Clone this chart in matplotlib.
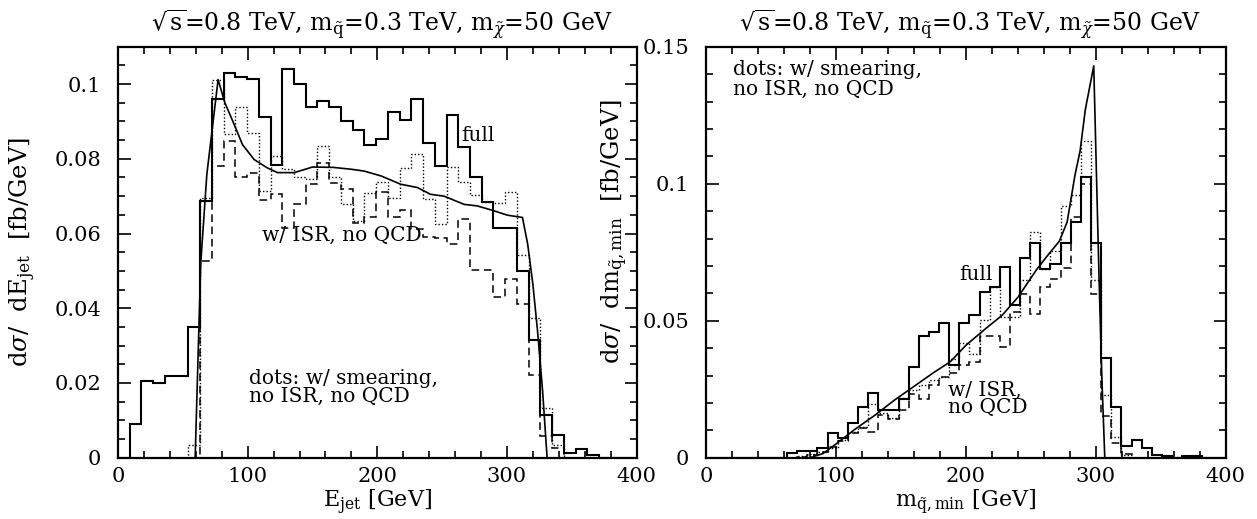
import numpy as np
import matplotlib
matplotlib.use("Agg")
import matplotlib.pyplot as plt
from matplotlib.ticker import MultipleLocator

plt.rcParams['font.family'] = ['DejaVu Serif']
plt.rcParams['mathtext.fontset'] = 'dejavuserif'

# ---- left panel: E_jet, bins of ~9.05 GeV ----
ejet_width = 9.05
ejet_full = [0, 0.009, 0.0205, 0.020, 0.022, 0.022, 0.0351, 0.0687, 0.096, 0.103,
             0.102, 0.1013, 0.0912, 0.0783, 0.104, 0.100, 0.0938, 0.0956, 0.0938, 0.090,
             0.0878, 0.0836, 0.0854, 0.0924, 0.0905, 0.096, 0.0841, 0.0782, 0.0916, 0.0831,
             0.0752, 0.0685, 0.0616, 0.0616, 0.050, 0.0316, 0.0114, 0.0062, 0.0012, 0.0022,
             0.0007, 0, 0, 0]
ejet_dots = [0, 0, 0, 0, 0, 0, 0.0034, 0.0696, 0.101, 0.0867,
             0.0938, 0.087, 0.0714, 0.0807, 0.0773, 0.075, 0.0745, 0.0834, 0.075, 0.0678,
             0.0634, 0.0708, 0.0738, 0.0696, 0.0776, 0.0813, 0.0692, 0.0625, 0.0778, 0.0739,
             0.0702, 0.0685, 0.0683, 0.0712, 0.0543, 0.0374, 0.0133, 0.0034, 0, 0,
             0, 0, 0, 0]
ejet_isr = [0, 0, 0, 0, 0, 0, 0, 0.0527, 0.078, 0.0847,
            0.0752, 0.0763, 0.069, 0.0705, 0.0616, 0.068, 0.0732, 0.079, 0.0736, 0.0718,
            0.0629, 0.0643, 0.0712, 0.0643, 0.0663, 0.0612, 0.0591, 0.0589, 0.0572, 0.064,
            0.0503, 0.0503, 0.0429, 0.0478, 0.0412, 0.0222, 0.0058, 0.0025, 0, 0,
            0, 0, 0, 0]
ejet_curve_x = [59.5, 63.8, 68.5, 77.2, 82.4, 89.6, 96, 105, 115, 123, 136, 150, 166, 180,
                190, 203, 218, 231, 241, 251.5, 267, 277, 288, 300.5, 312, 316, 320, 323.6,
                327.5, 331]
ejet_curve_y = [0, 0.052, 0.0758, 0.1012, 0.095, 0.0892, 0.0838, 0.0798, 0.0776, 0.0763,
                0.0763, 0.0778, 0.0777, 0.0772, 0.0767, 0.0754, 0.0732, 0.0723, 0.0705, 0.070,
                0.0678, 0.0674, 0.0663, 0.0649, 0.0643, 0.0572, 0.0465, 0.034, 0.018, 0]

# ---- right panel: m_sq,min, bins of ~7.8 GeV ----
mmin_width = 7.8
mmin_full = [0, 0, 0, 0, 0, 0, 0, 0, 0.0018, 0.0026,
             0.0026, 0.0034, 0.0089, 0.0071, 0.0125, 0.0185, 0.0237, 0.0175, 0.0175, 0.0215,
             0.0332, 0.0445, 0.046, 0.049, 0.034, 0.049, 0.052, 0.0606, 0.0624, 0.0697,
             0.0556, 0.073, 0.0782, 0.069, 0.0706, 0.0782, 0.086, 0.1026, 0.0782, 0.0363,
             0.0185, 0.0043, 0.0064, 0.0036, 0.001, 0.0006, 0, 0.0006, 0.0006, 0,
             0, 0]
mmin_dots = [0, 0, 0, 0, 0, 0, 0, 0, 0, 0.0005,
             0.0012, 0.002, 0.0035, 0.0065, 0.0095, 0.0113, 0.0196, 0.0162, 0.0144, 0.0217,
             0.0247, 0.0265, 0.0283, 0.0293, 0.036, 0.042, 0.038, 0.0502, 0.0624, 0.0515,
             0.0515, 0.0649, 0.0823, 0.069, 0.0755, 0.092, 0.0958, 0.1156, 0.0649, 0.0229,
             0.0077, 0.0009, 0, 0, 0, 0, 0, 0, 0, 0,
             0, 0]
mmin_isr = [0, 0, 0, 0, 0, 0, 0, 0, 0, 0.0003,
            0.001, 0.002, 0.004, 0.006, 0.0089, 0.011, 0.0092, 0.0155, 0.0143, 0.0174,
            0.0231, 0.0213, 0.0265, 0.0293, 0.031, 0.034, 0.035, 0.0444, 0.0444, 0.0405,
            0.0533, 0.0599, 0.0526, 0.0624, 0.0654, 0.0693, 0.088, 0.100, 0.0599, 0.0151,
            0.0052, 0.0015, 0, 0, 0, 0, 0, 0, 0, 0,
            0, 0]
mmin_curve_x = [80, 90, 100, 115, 130, 145, 160, 175, 188, 200, 215, 228, 240, 255, 265,
                272, 278, 284, 288, 292, 298.5, 302.5, 304.6, 307]
mmin_curve_y = [0, 0.0015, 0.005, 0.0105, 0.0155, 0.021, 0.026, 0.031, 0.035, 0.041,
                0.047, 0.052, 0.0585, 0.069, 0.075, 0.079, 0.086, 0.103, 0.112, 0.127,
                0.143, 0.067, 0.031, 0]

title = r'$\sqrt{\mathrm{s}}$=0.8 TeV, m$_{\tilde{\mathrm{q}}}$=0.3 TeV, m$_{\tilde{\chi}}$=50 GeV'


def style_axes(ax, ymax, ymajor, yminor):
    ax.set_xlim(0, 400)
    ax.set_ylim(0, ymax)
    ax.xaxis.set_major_locator(MultipleLocator(100))
    ax.xaxis.set_minor_locator(MultipleLocator(20))
    ax.yaxis.set_major_locator(MultipleLocator(ymajor))
    ax.yaxis.set_minor_locator(MultipleLocator(yminor))
    ax.tick_params(which='both', direction='in', top=True, right=True,
                   labelsize=15, width=1.2)
    ax.tick_params(which='major', length=9)
    ax.tick_params(which='minor', length=5)
    ax.tick_params(axis='x', which='major', pad=7)
    ax.tick_params(axis='y', which='major', pad=12)
    for sp in ax.spines.values():
        sp.set_linewidth(1.6)
    # title sits a little right of centre, as in the original
    ax.text(0.064, 1.0, title, transform=ax.transAxes, fontsize=17,
            ha='left', va='baseline').set_y(1.0 + 16 / 411)


def draw_panel(ax, width, full, dots, isr, cx, cy):
    edges = np.arange(len(full) + 1) * width
    ax.stairs(full, edges, color='black', linewidth=1.5)
    ax.stairs(dots, edges, color='black', linewidth=1.0, linestyle=(0, (1, 1.5)))
    ax.stairs(isr, edges, color='black', linewidth=1.1, linestyle=(0, (5, 3)))
    ax.plot(cx, cy, color='black', linewidth=1.2)


fig = plt.figure(figsize=(12.57, 5.19), dpi=100)
ax1 = fig.add_axes([0.0939, 0.1181, 0.4125, 0.7919])
ax2 = fig.add_axes([0.5617, 0.1181, 0.4133, 0.7919])

draw_panel(ax1, ejet_width, ejet_full, ejet_dots, ejet_isr, ejet_curve_x, ejet_curve_y)
style_axes(ax1, 0.11, 0.02, 0.005)
ax1.set_yticks([0, 0.02, 0.04, 0.06, 0.08, 0.1])
ax1.set_yticklabels(['0', '0.02', '0.04', '0.06', '0.08', '0.1'])
ax1.set_xlabel(r'E$_{\mathrm{jet}}$ [GeV]', fontsize=16, labelpad=1)
ax1.set_ylabel(r'd$\sigma$/  dE$_{\mathrm{jet}}$  [fb/GeV]', fontsize=17.5)
ax1.yaxis.set_label_coords(-0.154, 0.5)
ax1.text(265, 0.0863, 'full', fontsize=14.5, va='center')
ax1.text(111, 0.0594, 'w/ ISR, no QCD', fontsize=14.5, va='center')
ax1.text(100.7, 0.0212, 'dots: w/ smearing,', fontsize=14.5, va='center')
ax1.text(100.7, 0.0163, 'no ISR, no QCD', fontsize=14.5, va='center')

draw_panel(ax2, mmin_width, mmin_full, mmin_dots, mmin_isr, mmin_curve_x, mmin_curve_y)
style_axes(ax2, 0.15, 0.05, 0.01)
ax2.set_yticks([0, 0.05, 0.1, 0.15])
ax2.set_yticklabels(['0', '0.05', '0.1', '0.15'])
ax2.set_xlabel(r'm$_{\tilde{\mathrm{q}},\mathrm{min}}$ [GeV]', fontsize=16, labelpad=1)
ax2.set_ylabel(r'd$\sigma$/  dm$_{\tilde{\mathrm{q}},\mathrm{min}}$  [fb/GeV]', fontsize=17.5)
ax2.yaxis.set_label_coords(-0.146, 0.55)
ax2.text(21, 0.1415, 'dots: w/ smearing,', fontsize=14.5, va='center')
ax2.text(21, 0.1345, 'no ISR, no QCD', fontsize=14.5, va='center')
ax2.text(195, 0.0667, 'full', fontsize=14.5, va='center')
ax2.text(186, 0.0247, 'w/ ISR,', fontsize=14.5, va='center')
ax2.text(186, 0.0185, 'no QCD', fontsize=14.5, va='center')

fig.savefig('out.png', dpi=100)
